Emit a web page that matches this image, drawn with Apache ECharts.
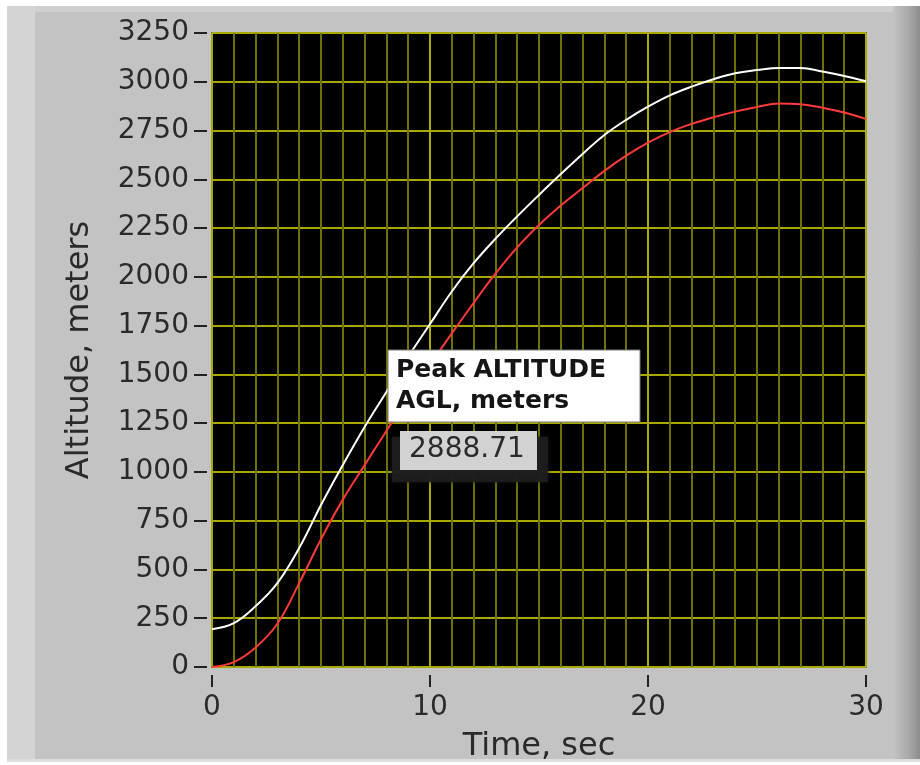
<!DOCTYPE html>
<html>
<head>
<meta charset="utf-8">
<script src="https://cdn.jsdelivr.net/npm/echarts@6/dist/echarts.min.js"></script>
<style>
  html, body { margin: 0; padding: 0; background: #ffffff; }
  #frame { position: relative; width: 920px; height: 765px; overflow: hidden; }
  /* instrument panel behind the plot */
  .panel { position: absolute; left: 7px; top: 6px; width: 913px; height: 756px; background: #c3c3c3; }
  .panel-top { position: absolute; left: 7px; top: 6px; width: 913px; height: 6px; background: #cfcfcf; }
  .panel-left { position: absolute; left: 7px; top: 6px; width: 28px; height: 756px; background: #d4d4d4; }
  .panel-right { position: absolute; left: 893px; top: 6px; width: 27px; height: 756px;
                 background: linear-gradient(to right, #c3c3c3 0%, #a8a8a8 60%, #8c8c8c 100%); }
  .panel-bottom { position: absolute; left: 7px; top: 759px; width: 913px; height: 3px; background: #dddddd; }
  #chart { position: absolute; left: 0; top: 0; width: 920px; height: 765px; }
</style>
</head>
<body>
<div id="frame">
  <div class="panel"></div>
  <div class="panel-top"></div>
  <div class="panel-left"></div>
  <div class="panel-right"></div>
  <div class="panel-bottom"></div>
  <div id="chart"></div>
</div>
<script>
// Flight time, seconds
const timeSec = [0, 1, 2, 3, 4, 5, 6, 7, 8, 9, 10, 11, 12, 13, 14, 15,
                 16, 17, 18, 19, 20, 21, 22, 23, 24, 25, 26, 27, 28, 29, 30];

// Altitude above sea level (white trace), meters
const altitudeMSL = [194, 225, 312, 430, 610, 830, 1035, 1230, 1410, 1590, 1758,
                     1925, 2070, 2195, 2310, 2420, 2527, 2630, 2727, 2805, 2872,
                     2930, 2975, 3013, 3044, 3060, 3071, 3071, 3053, 3030, 3003];

// Altitude above ground level (red trace), meters
const altitudeAGL = [0, 25, 100, 222, 430, 655, 858, 1035, 1210, 1384, 1548,
                     1710, 1866, 2016, 2151, 2266, 2366, 2455, 2543, 2621, 2688,
                     2742, 2784, 2818, 2847, 2871, 2888.71, 2885, 2867, 2842, 2809];

// Labelled time ticks
const xTickValues = [0, 10, 20, 30];

// Axis ranges and tick spacing
const xRange = [0, 30];
const xMajorStep = 10;
const xMinorPerMajor = 10;
const yRange = [0, 3250];
const yStep = 250;

const FONT = 'DejaVu Sans';
const peakAGL = Math.max(...altitudeAGL);

const chart = echarts.init(document.getElementById('chart'), null, { renderer: 'canvas' });

const pairs = (ys) => timeSec.map((t, i) => [t, ys[i]]);
// axis lines are invisible; ticks and labels still hang off them
const clearAxisLine = { show: true, onZero: false, lineStyle: { color: 'rgba(0,0,0,0)', width: 1 } };

chart.setOption({
  animation: false,
  backgroundColor: 'transparent',
  grid: {
    left: 212, right: 54, top: 33, bottom: 98,
    outerBoundsMode: 'none',
    show: true,
    backgroundColor: '#000000',
    borderColor: '#6a6a6a',
    borderWidth: 2
  },
  xAxis: {
    type: 'value',
    min: xRange[0], max: xRange[1], interval: xMajorStep,
    offset: 8,
    name: 'Time, sec',
    nameLocation: 'middle',
    nameGap: 56,
    nameTextStyle: { fontFamily: FONT, fontSize: 32, color: '#2a2a2a' },
    axisLine: clearAxisLine,
    axisTick: { show: false },
    axisLabel: { fontFamily: FONT, fontSize: 28, color: '#2a2a2a', margin: 19 },
    splitLine: { show: true, lineStyle: { color: '#a8a800', width: 2 } },
    minorTick: { show: false, splitNumber: xMinorPerMajor },
    minorSplitLine: { show: true, lineStyle: { color: '#707000', width: 2 } }
  },
  yAxis: {
    type: 'value',
    min: yRange[0], max: yRange[1], interval: yStep,
    offset: 5,
    name: 'Altitude, meters',
    nameLocation: 'middle',
    nameRotate: 90,
    nameGap: 111,
    nameTextStyle: { fontFamily: FONT, fontSize: 32, color: '#2a2a2a' },
    axisLine: clearAxisLine,
    axisTick: { show: true, length: 13, lineStyle: { color: '#222222', width: 2 } },
    axisLabel: {
      fontFamily: FONT, fontSize: 28, color: '#2a2a2a', margin: 18,
      formatter: (v) => String(v)
    },
    splitLine: { show: true, lineStyle: { color: '#a8a800', width: 2 } }
  },
  series: [
    {
      name: 'Altitude MSL',
      type: 'line',
      data: pairs(altitudeMSL),
      showSymbol: false,
      smooth: 0.4,
      lineStyle: { color: '#ffffff', width: 2 },
      z: 3
    },
    {
      name: 'Altitude AGL',
      type: 'line',
      data: pairs(altitudeAGL),
      showSymbol: false,
      smooth: 0.4,
      lineStyle: { color: '#ff3a3a', width: 2 },
      z: 4
    },
    {
      // short dark tick marks hanging below the plot at each labelled time
      name: 'Time ticks',
      type: 'custom',
      silent: true,
      clip: false,
      z: 5,
      data: xTickValues.map((t) => [t, yRange[0]]),
      renderItem: (params, api) => {
        const p = api.coord([api.value(0), api.value(1)]);
        return {
          type: 'line',
          shape: { x1: p[0], y1: p[1] + 8, x2: p[0], y2: p[1] + 20 },
          style: { stroke: '#222222', lineWidth: 2 }
        };
      }
    }
  ],
  graphic: [
    // peak altitude annotation
    { type: 'rect', z: 100, silent: true, shape: { x: 392, y: 437, width: 156, height: 45 },
      style: { fill: 'rgba(30,30,30,0.9)', shadowBlur: 4, shadowColor: 'rgba(30,30,30,0.9)' } },
    { type: 'rect', z: 101, silent: true, shape: { x: 388, y: 350, width: 252, height: 72 },
      style: { fill: '#ffffff', stroke: '#7a7a7a', lineWidth: 1 } },
    { type: 'text', z: 102, silent: true, x: 396, y: 355,
      style: { text: 'Peak ALTITUDE\nAGL, meters', fill: '#151515', font: 'bold 25px "DejaVu Sans"', lineHeight: 31 } },
    { type: 'rect', z: 101, silent: true, shape: { x: 400, y: 431, width: 137, height: 39 },
      style: { fill: '#d2d2d2' } },
    { type: 'text', z: 102, silent: true, x: 409, y: 436,
      style: { text: peakAGL.toFixed(2), fill: '#2a2a2a', font: '28px "DejaVu Sans"' } }
  ]
});
</script>
</body>
</html>
